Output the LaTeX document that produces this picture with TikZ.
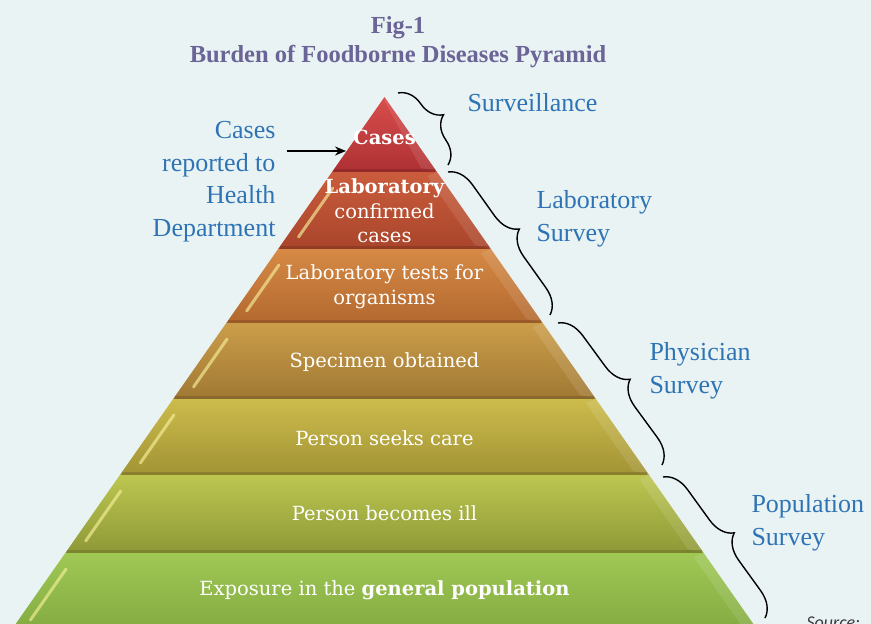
\documentclass[tikz,border=0pt]{standalone}
\usepackage{fontspec}
\setmainfont{Liberation Serif}
\newfontfamily\bandfont{DejaVu Serif}
\newfontfamily\notefont{Carlito}
\usetikzlibrary{arrows.meta,decorations.pathreplacing}

\definecolor{bgcol}{HTML}{EAF3F3}
\definecolor{titlecol}{HTML}{6B6497}
\definecolor{labelblue}{HTML}{2E74B5}
\definecolor{notegray}{HTML}{3A3A3A}
\definecolor{streakcol}{HTML}{F6F09A}
\definecolor{casetop}{HTML}{D84E4C}
\definecolor{casebot}{HTML}{AE3033}
\definecolor{conftop}{HTML}{CA5C3C}
\definecolor{confbot}{HTML}{A9452B}
\definecolor{testtop}{HTML}{D68A45}
\definecolor{testbot}{HTML}{B3682F}
\definecolor{spectop}{HTML}{CB9E4A}
\definecolor{specbot}{HTML}{A07833}
\definecolor{caretop}{HTML}{CCBC4C}
\definecolor{carebot}{HTML}{A29335}
\definecolor{illtop}{HTML}{BCC650}
\definecolor{illbot}{HTML}{8E9937}
\definecolor{expotop}{HTML}{A0C855}
\definecolor{expobot}{HTML}{82AA41}

\begin{document}
\begin{tikzpicture}[x=1pt,y=-1pt,
  titletext/.style={text=titlecol,align=center,anchor=base,font=\bfseries\fontsize{24.5}{29}\selectfont},
  bandtext/.style={text=white,align=center,font=\bandfont\fontsize{19.5}{24.5}\selectfont},
  surveytext/.style={text=labelblue,align=left,anchor=base west,font=\fontsize{26}{32.5}\selectfont},
  surveybrace/.style={decorate,decoration={brace,amplitude=25pt},line width=1.4pt},
  streak/.style={line width=3pt,line cap=round,draw=streakcol,opacity=.65}]
\def\apex{384.5}
\def\apy{97}
\def\slope{0.7}
\path[fill=bgcol,use as bounding box] (0,0) rectangle (871,624);

% title (base is the last line)
\node[titletext] (title) at (398,62) {Fig-1\\Burden of Foodborne Diseases Pyramid};

% pyramid bands, top to bottom
\foreach \n/\t/\b/\ct/\cb/\ty/\txt in {
  cases/97/172/casetop/casebot/137/{\bfseries Cases},
  labconf/172/249/conftop/confbot/211/{{\bfseries Laboratory}\\confirmed\\cases},
  labtests/249/323/testtop/testbot/287/{Laboratory tests for\\organisms},
  specimen/323/399/spectop/specbot/362/{Specimen obtained},
  seekscare/399/475/caretop/carebot/438/{Person seeks care},
  ill/475/553/illtop/illbot/513/{Person becomes ill},
  exposure/553/632/expotop/expobot/590/{Exposure in the {\bfseries general population}}}{
  \pgfmathsetmacro\wt{\slope*(\t-\apy)}
  \pgfmathsetmacro\wb{\slope*(\b-\apy)}
  \pgfmathsetmacro\wi{max(\wt-10,0)}
  \shade[top color=\ct,bottom color=\cb] (\apex-\wt,\t) -- (\apex+\wt,\t) -- (\apex+\wb,\b) -- (\apex-\wb,\b) -- cycle;
  % bevel on the right, dark seam at the bottom, light streak on the left
  \fill[white,opacity=.1] (\apex+\wt,\t) -- (\apex+\wb,\b) -- (\apex+\wb-16,\b-4) -- (\apex+\wi,\t+4) -- cycle;
  \draw[line width=3pt,draw=\cb!75!black,opacity=.55] (\apex-\wb+2,\b-1.5) -- (\apex+\wb-2,\b-1.5);
  \ifnum\t>\apy
    \pgfmathsetmacro\ya{\b-12}
    \pgfmathsetmacro\yb{\t+16}
    \draw[streak] ({\apex-\slope*(\ya-\apy)+12},\ya) -- ({\apex-\slope*(\yb-\apy)+12},\yb);
  \fi
  \node[bandtext] (\n) at (\apex,\ty) {\txt};
}

% braces along the right side
\draw[surveybrace] (398,93) -- (448,165);
\draw[surveybrace] (448,172) -- (550,315);
\draw[surveybrace] (558,323) -- (662,465);
\draw[surveybrace] (663,477) -- (765,618);

\node[surveytext] (surv) at (464,111) {Surveillance};
\node[surveytext] (labsurv) at (533,241) {Laboratory\\Survey};
\node[surveytext] (physurv) at (646,393) {Physician\\Survey};
\node[surveytext] (popsurv) at (748,545) {Population\\Survey};

% reported cases, pointing at the top
\node[surveytext,align=right,anchor=base east] (reported) at (279,236) {Cases\\reported to\\Health\\Department};
\coordinate (arrowtail) at (287,151);
\coordinate (arrowtip) at (346,151);
\draw[-{Stealth[length=11pt,width=9pt]},line width=1.5pt] (arrowtail) -- (arrowtip);

\node[anchor=base west,text=notegray,font=\notefont\itshape\fontsize{18}{18}\selectfont] (source) at (803,628) {Source:};
\end{tikzpicture}
\end{document}
